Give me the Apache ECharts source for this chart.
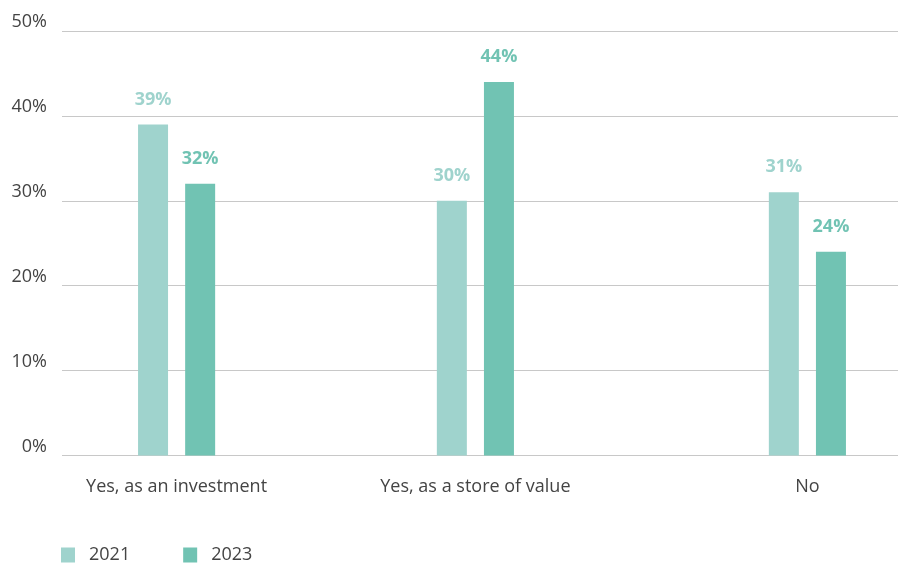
<!DOCTYPE html>
<html>
<head>
<meta charset="utf-8">
<script src="https://cdn.jsdelivr.net/npm/echarts@6/dist/echarts.min.js"></script>
<style>html,body{margin:0;padding:0;background:#fff}#c{width:905px;height:563px}</style>
</head>
<body>
<div id="c"></div>
<script>
// ---- data ----
const categories = ['Yes, as an investment', 'Yes, as a store of value', 'No'];
const seriesNames = ['2021', '2023'];
const values2021 = [39, 30, 31];
const values2023 = [32, 44, 24];
const yTicks = [0, 10, 20, 30, 40, 50];

// ---- layout (slot positions on the category band axis, uneven group spacing) ----
const slotOf = [0, 9, 19];
const slotCount = 20;
const axisData = new Array(slotCount).fill('');
categories.forEach((c, i) => { axisData[slotOf[i]] = c; });
function spread(vals) {
  const arr = new Array(slotCount).fill(null);
  vals.forEach((v, i) => { arr[slotOf[i]] = v; });
  return arr;
}

const c2021 = '#9fd3cd';
const c2023 = '#71c3b3';
const textColor = '#444444';
const font = "'Open Sans', 'Noto Sans', sans-serif";

const chart = echarts.init(document.getElementById('c'), null, {renderer: 'canvas'});
chart.setOption({
  animation: false,
  textStyle: {fontFamily: font},
  grid: [
    {left: 62, right: 7, top: 31, bottom: 107.5},
    {left: 160, width: 664, top: 31, bottom: 107.5}
  ],
  legend: {
    left: 56, top: 541,
    icon: 'rect', itemWidth: 14, itemHeight: 15, itemGap: 53,
    textStyle: {fontFamily: font, fontSize: 18, color: textColor, padding: [0, 0, 0, 9]},
    data: seriesNames
  },
  xAxis: [
    {gridIndex: 0, type: 'category', data: [''], show: false},
    {gridIndex: 1, type: 'category', data: axisData,
     axisLine: {show: false}, axisTick: {show: false}, splitLine: {show: false},
     axisLabel: {interval: 0, margin: 21, fontSize: 18, lineHeight: 20, color: textColor, fontFamily: font}}
  ],
  yAxis: [
    {gridIndex: 0, type: 'value', min: yTicks[0], max: yTicks[yTicks.length - 1], interval: 10,
     axisLine: {show: false}, axisTick: {show: false},
     splitLine: {lineStyle: {color: '#c8c8c8', width: 1}},
     axisLabel: {margin: 15, fontSize: 18, color: textColor, fontFamily: font,
       verticalAlign: 'bottom', lineHeight: 18, padding: [0, 0, 0, 0],
       formatter: v => v + '%'}},
    {gridIndex: 1, type: 'value', min: yTicks[0], max: yTicks[yTicks.length - 1], interval: 10, show: false}
  ],
  series: [
    {name: seriesNames[0], type: 'bar', xAxisIndex: 1, yAxisIndex: 1, clip: false,
     data: spread(values2021), barWidth: 30, barGap: '57%',
     itemStyle: {color: c2021},
     label: {show: true, position: 'top', distance: 16, fontSize: 18, fontWeight: 'bold',
       color: c2021, fontFamily: font, formatter: p => p.value + '%'}},
    {name: seriesNames[1], type: 'bar', xAxisIndex: 1, yAxisIndex: 1, clip: false,
     data: spread(values2023), barWidth: 30, barGap: '57%',
     itemStyle: {color: c2023},
     label: {show: true, position: 'top', distance: 16, fontSize: 18, fontWeight: 'bold',
       color: c2023, fontFamily: font, formatter: p => p.value + '%'}}
  ]
});
</script>
</body>
</html>
